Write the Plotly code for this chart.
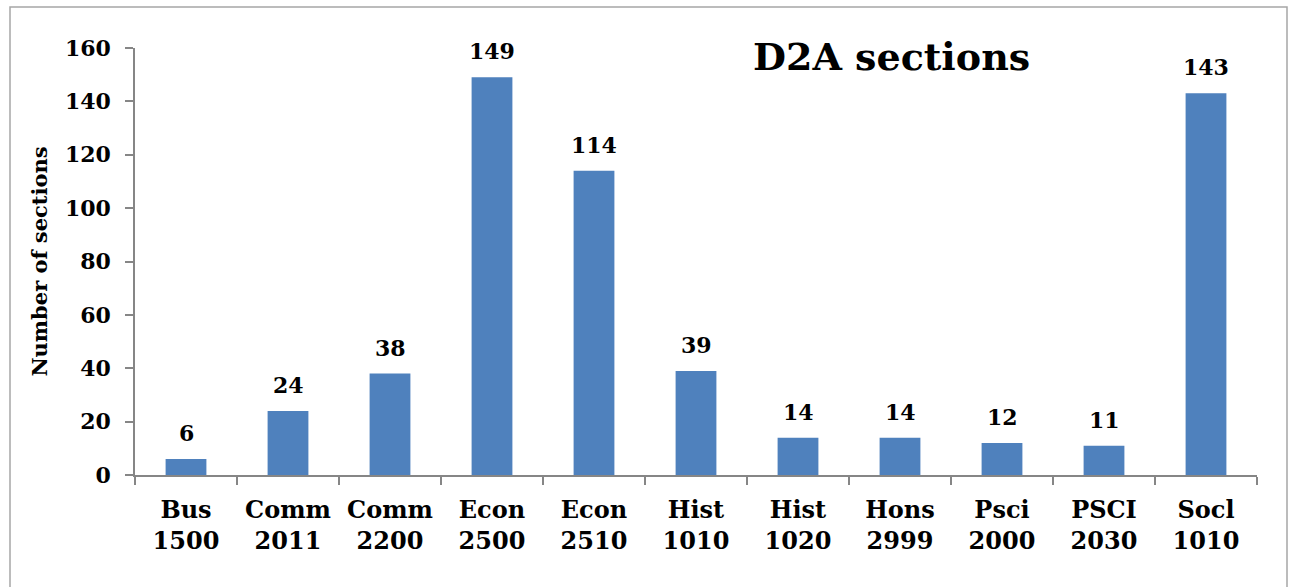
import plotly.graph_objects as go

categories = ["Bus<br>1500", "Comm<br>2011", "Comm<br>2200", "Econ<br>2500", "Econ<br>2510",
              "Hist<br>1010", "Hist<br>1020", "Hons<br>2999", "Psci<br>2000", "PSCI<br>2030", "Socl<br>1010"]
sections = [6, 24, 38, 149, 114, 39, 14, 14, 12, 11, 143]
y_ticks = [0, 20, 40, 60, 80, 100, 120, 140, 160]

FONT = "DejaVu Serif"
W, H = 1289, 587
L, R, T, B = 135, 32, 48, 112
pw, ph = W - L - R, H - T - B

fig = go.Figure()
fig.add_trace(go.Bar(x=categories, y=sections, marker=dict(color="#4F81BD", line=dict(width=0)),
                     width=0.4, hoverinfo="x+y"))

for c, v in zip(categories, sections):
    fig.add_annotation(x=c, y=v, text=str(v), showarrow=False, yanchor="bottom", yshift=11,
                       font=dict(family=FONT, size=22, color="black", weight="bold"))

fig.add_annotation(xref="paper", yref="paper", x=(891 - L) / pw, y=(H - B - 56) / ph,
                   text="D2A sections", showarrow=False, xanchor="center", yanchor="middle",
                   font=dict(family=FONT, size=38, color="black", weight="bold"))

# outer chart border
fig.add_shape(type="rect", xref="paper", yref="paper",
              x0=(10 - L) / pw, x1=(1287 - L) / pw,
              y0=(H - B - 620) / ph, y1=(H - B - 7) / ph,
              line=dict(color="#A6A6A6", width=1.5), fillcolor="rgba(0,0,0,0)", layer="below")

fig.update_layout(
    width=W, height=H,
    margin=dict(l=L, r=R, t=T, b=B, pad=0),
    paper_bgcolor="white", plot_bgcolor="white",
    showlegend=False,
    font=dict(family=FONT, size=22, color="black", weight="bold"),
    bargap=0.6,
)
fig.update_xaxes(type="category", tickson="boundaries", ticks="outside", ticklen=8, tickwidth=1.5,
                 tickcolor="#868686", showline=True, linecolor="#868686", linewidth=1.5,
                 showgrid=False, ticklabelstandoff=12,
                 tickfont=dict(family=FONT, size=24, color="black", weight="bold"))
fig.update_yaxes(range=[0, 160], tickvals=y_ticks, ticks="outside", ticklen=8, tickwidth=1.5,
                 tickcolor="#868686", showline=True, linecolor="#868686", linewidth=1.5,
                 showgrid=False, zeroline=False, ticklabelstandoff=10,
                 tickfont=dict(family=FONT, size=22, color="black", weight="bold"),
                 title=dict(text="Number of sections", standoff=12,
                            font=dict(family=FONT, size=21, color="black", weight="bold")))

fig.write_html("out.html")
